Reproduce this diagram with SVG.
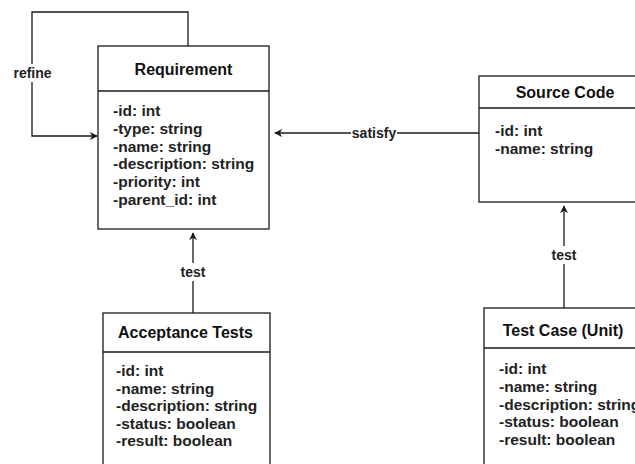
<svg xmlns="http://www.w3.org/2000/svg" width="635" height="464" viewBox="0 0 635 464">
  <defs>
    <style>
      .box { fill: #ffffff; stroke: #1a1a1a; stroke-width: 1.3; }
      .sep { stroke: #1a1a1a; stroke-width: 1.3; }
      .edge { fill: none; stroke: #1a1a1a; stroke-width: 1.3; }
      .title { font-family: "Liberation Sans", Arial, sans-serif; font-size: 16px; font-weight: bold; fill: #111; text-anchor: middle; }
      .attr { font-family: "Liberation Sans", Arial, sans-serif; font-size: 15.5px; font-weight: bold; fill: #222; }
      .lbl { font-family: "Liberation Sans", Arial, sans-serif; font-size: 14px; font-weight: bold; fill: #222; text-anchor: middle; }
      .lblbg { fill: #ffffff; }
    </style>
    <marker id="arrow" viewBox="0 0 10 10" refX="9" refY="5" markerWidth="8" markerHeight="8" markerUnits="userSpaceOnUse" orient="auto">
      <path d="M0,0 L10,5 L0,10 L3,5 Z" fill="#1a1a1a"/>
    </marker>
  </defs>
  <rect width="635" height="464" fill="#ffffff"/>

  <!-- connectors -->
  <g id="connectors">
    <path class="edge" d="M188,46 V12 H32 V136 H97" marker-end="url(#arrow)"/>
    <rect class="lblbg" x="12" y="64" width="41" height="18"/>
    <text class="lbl" x="32.5" y="78">refine</text>

    <path class="edge" d="M479,133 H275" marker-end="url(#arrow)"/>
    <rect class="lblbg" x="351" y="124" width="46" height="18"/>
    <text class="lbl" x="374" y="138">satisfy</text>

    <path class="edge" d="M193,313 V233" marker-end="url(#arrow)"/>
    <rect class="lblbg" x="178" y="263" width="30" height="18"/>
    <text class="lbl" x="193" y="277">test</text>

    <path class="edge" d="M564,308 V206" marker-end="url(#arrow)"/>
    <rect class="lblbg" x="549" y="246" width="30" height="18"/>
    <text class="lbl" x="564" y="260">test</text>
  </g>

  <!-- class nodes -->
  <g id="requirement">
    <rect class="box" x="98" y="46" width="171" height="183"/>
    <line class="sep" x1="98" y1="91" x2="269" y2="91"/>
    <text class="title" x="183.5" y="75">Requirement</text>
    <text class="attr" x="113" y="116">-id: int</text>
    <text class="attr" x="113" y="134">-type: string</text>
    <text class="attr" x="113" y="152">-name: string</text>
    <text class="attr" x="113" y="169">-description: string</text>
    <text class="attr" x="113" y="187">-priority: int</text>
    <text class="attr" x="113" y="205">-parent_id: int</text>
  </g>

  <g id="source-code">
    <rect class="box" x="479" y="76" width="172" height="126"/>
    <line class="sep" x1="479" y1="108" x2="651" y2="108"/>
    <text class="title" x="565" y="98">Source Code</text>
    <text class="attr" x="495" y="136">-id: int</text>
    <text class="attr" x="495" y="154">-name: string</text>
  </g>

  <g id="acceptance-tests">
    <rect class="box" x="103" y="313" width="167" height="170"/>
    <line class="sep" x1="103" y1="352" x2="270" y2="352"/>
    <text class="title" x="185.5" y="338">Acceptance Tests</text>
    <text class="attr" x="116" y="376">-id: int</text>
    <text class="attr" x="116" y="393.5">-name: string</text>
    <text class="attr" x="116" y="411">-description: string</text>
    <text class="attr" x="116" y="428.5">-status: boolean</text>
    <text class="attr" x="116" y="446">-result: boolean</text>
  </g>

  <g id="test-case-unit">
    <rect class="box" x="484" y="308" width="162" height="175"/>
    <line class="sep" x1="484" y1="348" x2="646" y2="348"/>
    <text class="title" x="563" y="336">Test Case (Unit)</text>
    <text class="attr" x="499" y="374">-id: int</text>
    <text class="attr" x="499" y="392">-name: string</text>
    <text class="attr" x="499" y="410">-description: string</text>
    <text class="attr" x="499" y="427">-status: boolean</text>
    <text class="attr" x="499" y="445">-result: boolean</text>
  </g>
</svg>
